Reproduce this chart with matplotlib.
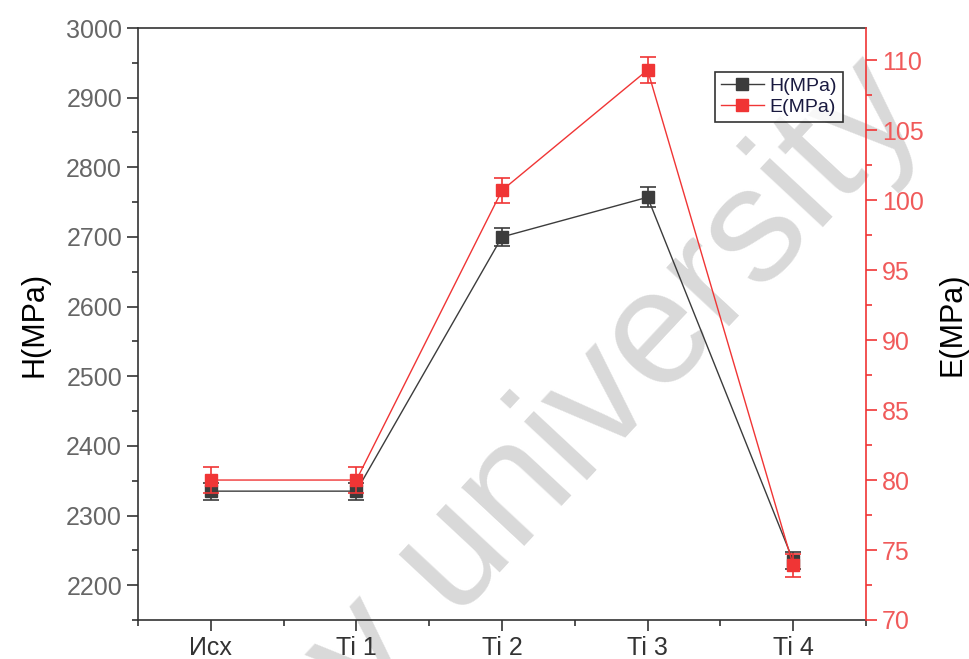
import matplotlib.pyplot as plt
from matplotlib.lines import Line2D
from matplotlib.ticker import MultipleLocator, AutoMinorLocator

plt.rcParams["font.family"] = ["Liberation Sans", "DejaVu Sans"]

# datos
muestras = ["Исх", "Ti 1", "Ti 2", "Ti 3", "Ti 4"]
H = [2335, 2335, 2700, 2757, 2235]
H_err = [12, 12, 13, 14, 12]
E = [80.0, 80.0, 100.7, 109.3, 73.9]
E_err = [0.9, 0.9, 0.9, 0.9, 0.85]

gris = "#3c3c3c"
rojo = "#f03535"

fig = plt.figure(figsize=(9.69, 6.59), dpi=100)
ax = fig.add_axes([0.1424, 0.0592, 0.7513, 0.8983])
ax.patch.set_visible(False)
ax2 = ax.twinx()

x = list(range(1, len(muestras) + 1))

ax.errorbar(x, H, yerr=H_err, color=gris, marker="s", markersize=9, lw=1,
            capsize=6, capthick=1.2, elinewidth=1.2)
ax2.errorbar(x, E, yerr=E_err, color=rojo, marker="s", markersize=9, lw=1,
             capsize=6, capthick=1.2, elinewidth=1.2)

ax.set_xlim(0.5, 5.5)
ax.set_ylim(2150, 3000)
ax2.set_ylim(70, 112.3)

ax.set_xticks(x)
ax.set_xticklabels(muestras)
ax.xaxis.set_minor_locator(MultipleLocator(0.5))
ax.yaxis.set_major_locator(MultipleLocator(100))
ax.yaxis.set_minor_locator(AutoMinorLocator(2))
ax2.yaxis.set_major_locator(MultipleLocator(5))
ax2.yaxis.set_minor_locator(AutoMinorLocator(2))

ax.tick_params(axis="both", which="major", direction="out", length=8, width=1.2,
               labelsize=18, colors="#333333")
ax.tick_params(axis="y", labelcolor="#666666")
ax.tick_params(axis="x", labelcolor="#333333")
ax.tick_params(axis="both", which="minor", direction="out", length=4, width=1.2,
               colors="#333333")
ax2.tick_params(axis="y", which="major", direction="out", length=8, width=1.2,
                labelsize=18, colors=rojo, labelcolor="#f05a5a")
ax2.tick_params(axis="y", which="minor", direction="out", length=4, width=1.2,
                colors=rojo)

for s in ["left", "bottom", "top"]:
    ax.spines[s].set_linewidth(1.2)
    ax.spines[s].set_color("#333333")
ax.spines["right"].set_visible(False)
ax2.spines["right"].set_color(rojo)
ax2.spines["right"].set_linewidth(1.2)
for s in ["left", "bottom", "top"]:
    ax2.spines[s].set_visible(False)

ax.set_ylabel("H(MPa)", fontsize=22, labelpad=12)
ax2.set_ylabel("E(MPa)", fontsize=22, labelpad=10)

handles = [
    Line2D([], [], color=gris, marker="s", markersize=8, lw=1),
    Line2D([], [], color=rojo, marker="s", markersize=8, lw=1),
]
leg = ax2.legend(handles, ["H(MPa)", "E(MPa)"], loc="upper right",
                 bbox_to_anchor=(0.968, 0.926), fontsize=14, frameon=True,
                 fancybox=False, edgecolor="black", borderpad=0.3,
                 handlelength=2.2, handletextpad=0.3, labelspacing=0.15,
                 borderaxespad=0)
leg.get_frame().set_linewidth(1.2)
for t in leg.get_texts():
    t.set_color("#1a1a40")

# marca de agua
fig.text(0.38, -0.083, "y university", fontsize=118, color="#d9d9d9",
         rotation=47, rotation_mode="anchor", ha="left", va="baseline", zorder=-1)

fig.savefig("out.png", dpi=100)
